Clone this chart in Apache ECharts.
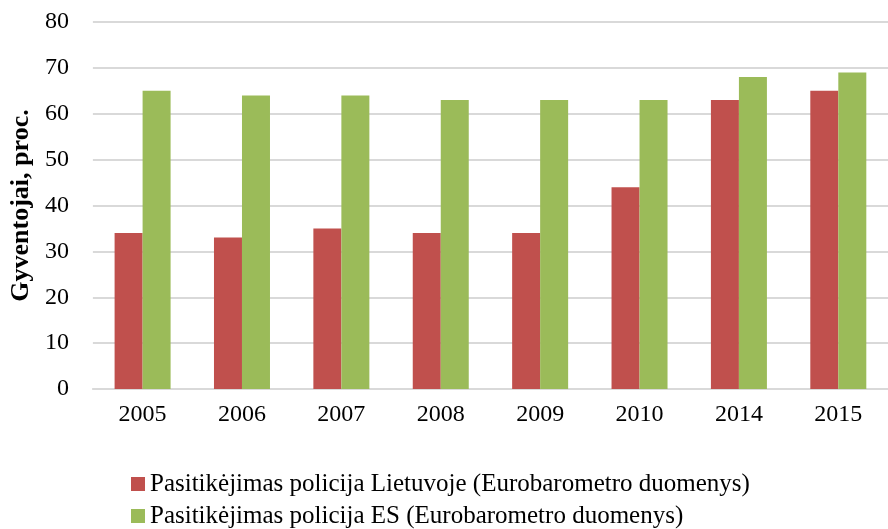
<!DOCTYPE html>
<html><head><meta charset="utf-8">
<script src="https://cdn.jsdelivr.net/npm/echarts@6/dist/echarts.min.js"></script>
<style>html,body{margin:0;padding:0;background:#fff}#c{width:888px;height:529px}</style>
</head><body><div id="c"></div>
<script>
const categories = ['2005','2006','2007','2008','2009','2010','2014','2015'];
const lietuva = [34, 33, 35, 34, 34, 44, 63, 65];
const es = [65, 64, 64, 63, 63, 63, 68, 69];
const seriesNames = ['Pasitikėjimas policija Lietuvoje (Eurobarometro duomenys)', 'Pasitikėjimas policija ES (Eurobarometro duomenys)'];
const yTicks = {min: 0, max: 80, interval: 10};
const font = 'Liberation Serif';
const legendText = {fontFamily: font, fontSize: 25, color: '#000', lineHeight: 26};
const chart = echarts.init(document.getElementById('c'));
chart.setOption({
  animation: false,
  textStyle: {fontFamily: font},
  grid: {left: 92, right: 0, top: 22, bottom: 140},
  legend: [
    {left: 131, top: 471, padding: 0, itemWidth: 14, itemHeight: 14, icon: 'rect', textStyle: legendText, data: [seriesNames[0]]},
    {left: 131, top: 503, padding: 0, itemWidth: 14, itemHeight: 14, icon: 'rect', textStyle: legendText, data: [seriesNames[1]]}
  ],
  xAxis: {
    type: 'category', data: categories,
    axisLine: {lineStyle: {color: '#d9d9d9', width: 2}},
    axisTick: {show: false},
    axisLabel: {fontFamily: font, fontSize: 24, color: '#000', margin: 14}
  },
  yAxis: {
    type: 'value', min: yTicks.min, max: yTicks.max, interval: yTicks.interval,
    name: 'Gyventojai, proc.', nameLocation: 'middle', nameGap: 48,
    nameTextStyle: {fontFamily: font, fontSize: 26, fontWeight: 'bold', color: '#000'},
    axisLine: {show: false}, axisTick: {show: false},
    axisLabel: {fontFamily: font, fontSize: 24, color: '#000', margin: 24},
    splitLine: {lineStyle: {color: '#d9d9d9', width: 2}}
  },
  series: [
    {name: seriesNames[0], type: 'bar', data: lietuva, barWidth: 28, barGap: '0%', itemStyle: {color: '#c0504d'}},
    {name: seriesNames[1], type: 'bar', data: es, barWidth: 28, barGap: '0%', itemStyle: {color: '#9bbb59'}}
  ]
});
</script></body></html>
